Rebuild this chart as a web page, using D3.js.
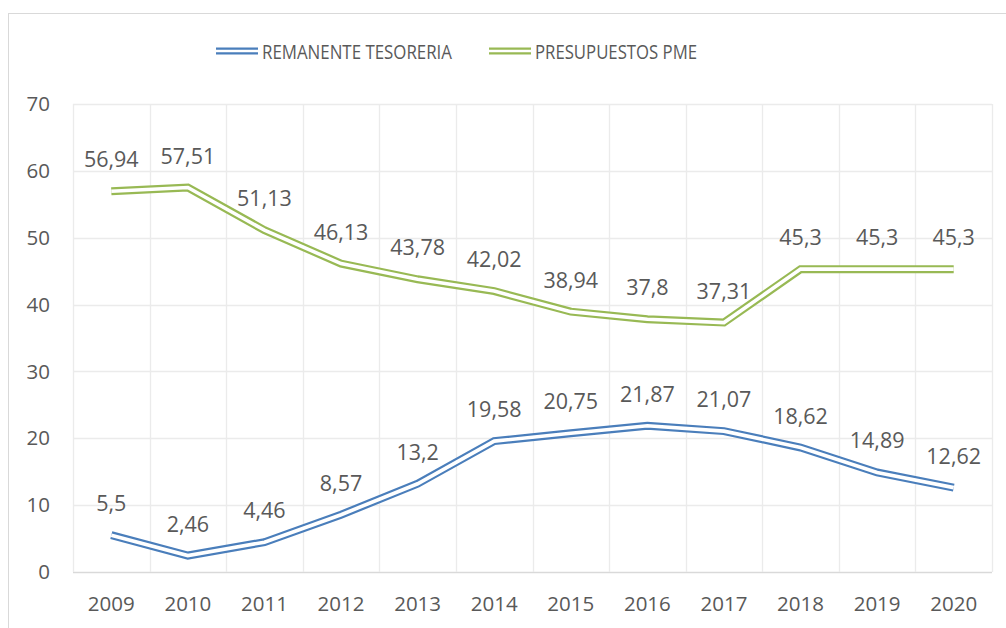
<!DOCTYPE html>
<html>
<head>
<meta charset="utf-8">
<script src="https://cdn.jsdelivr.net/npm/d3@7"></script>
<style>
  body { margin: 0; background: #fff; }
  text { font-family: "Open Sans", sans-serif; fill: #595959; }
</style>
</head>
<body>
<div id="wrapper"></div>
<script>
const years = ["2009", "2010", "2011", "2012", "2013", "2014", "2015", "2016", "2017", "2018", "2019", "2020"];
const remanente = [5.5, 2.46, 4.46, 8.57, 13.2, 19.58, 20.75, 21.87, 21.07, 18.62, 14.89, 12.62];
const presupuestos = [56.94, 57.51, 51.13, 46.13, 43.78, 42.02, 38.94, 37.8, 37.31, 45.3, 45.3, 45.3];
const yTicks = [0, 10, 20, 30, 40, 50, 60, 70];
const seriesNames = ["REMANENTE TESORERIA", "PRESUPUESTOS PME"];
const seriesColors = ["#4a7ebb", "#98b954"];

const width = 1006, height = 628;
const margin = { top: 104, right: 14, bottom: 56, left: 73 };

const svg = d3.select("#wrapper")
    .append("svg")
    .attr("width", width)
    .attr("height", height);

// chart frame
svg.append("rect")
    .attr("x", 8.5).attr("y", 13.5)
    .attr("width", width + 10).attr("height", height + 10)
    .attr("fill", "none")
    .attr("stroke", "#d9d9d9");

const x = d3.scaleBand()
    .domain(years)
    .range([margin.left, width - margin.right]);

const y = d3.scaleLinear()
    .domain([0, 70])
    .range([height - margin.bottom, margin.top]);

// horizontal gridlines
svg.append("g")
    .selectAll("line")
    .data(yTicks)
    .enter()
    .append("line")
    .attr("x1", margin.left)
    .attr("x2", width - margin.right)
    .attr("y1", d => Math.round(y(d)) + 0.5)
    .attr("y2", d => Math.round(y(d)) + 0.5)
    .attr("stroke", d => d === 0 ? "#d9d9d9" : "#ebebeb")
    .attr("stroke-width", 1.3);

// vertical gridlines at category boundaries
const bounds = years.map(d => x(d)).concat([x.range()[1]]);
svg.append("g")
    .selectAll("line")
    .data(bounds)
    .enter()
    .append("line")
    .attr("x1", d => Math.round(d) + 0.5)
    .attr("x2", d => Math.round(d) + 0.5)
    .attr("y1", y(70))
    .attr("y2", y(0))
    .attr("stroke", "#ebebeb")
    .attr("stroke-width", 1.3);

// y axis labels
svg.append("g")
    .selectAll("text")
    .data(yTicks)
    .enter()
    .append("text")
    .attr("x", 50)
    .attr("y", d => y(d))
    .attr("dy", "0.35em")
    .style("text-anchor", "end")
    .style("font-size", "20.5px")
    .text(d => d);

// x axis labels
svg.append("g")
    .selectAll("text")
    .data(years)
    .enter()
    .append("text")
    .attr("x", d => x(d) + x.bandwidth() / 2)
    .attr("y", 611)
    .style("text-anchor", "middle")
    .style("font-size", "20.5px")
    .text(d => d);

const line = d3.line()
    .x((d, i) => x(years[i]) + x.bandwidth() / 2)
    .y(d => y(d));

const fmt = v => String(v).replace(".", ",");

[remanente, presupuestos].forEach((values, k) => {
    // double line: thick colour stroke with a white core
    svg.append("path")
        .datum(values)
        .attr("d", line)
        .attr("fill", "none")
        .attr("stroke", seriesColors[k])
        .attr("stroke-width", 8);
    svg.append("path")
        .datum(values)
        .attr("d", line)
        .attr("fill", "none")
        .attr("stroke", "#fff")
        .attr("stroke-width", 3.6);

    svg.append("g")
        .selectAll("text")
        .data(values)
        .enter()
        .append("text")
        .attr("x", (d, i) => x(years[i]) + x.bandwidth() / 2)
        .attr("y", d => y(d) - 24)
        .style("text-anchor", "middle")
        .style("font-size", "21.5px")
        .text(d => fmt(d));
});

// legend
const legendX = [216, 489];
const legendW = [190, 162];
const legend = svg.append("g")
    .selectAll("g")
    .data(seriesNames)
    .enter()
    .append("g")
    .attr("transform", (d, i) => `translate(${legendX[i]},51)`);

legend.append("line")
    .attr("x1", 0).attr("x2", 42)
    .attr("stroke", (d, i) => seriesColors[i])
    .attr("stroke-width", 7);
legend.append("line")
    .attr("x1", 0).attr("x2", 42)
    .attr("stroke", "#fff")
    .attr("stroke-width", 2.6);
legend.append("text")
    .attr("x", 46)
    .attr("y", 8)
    .attr("textLength", (d, i) => legendW[i])
    .attr("lengthAdjust", "spacingAndGlyphs")
    .style("font-size", "19.5px")
    .text(d => d);
</script>
</body>
</html>
